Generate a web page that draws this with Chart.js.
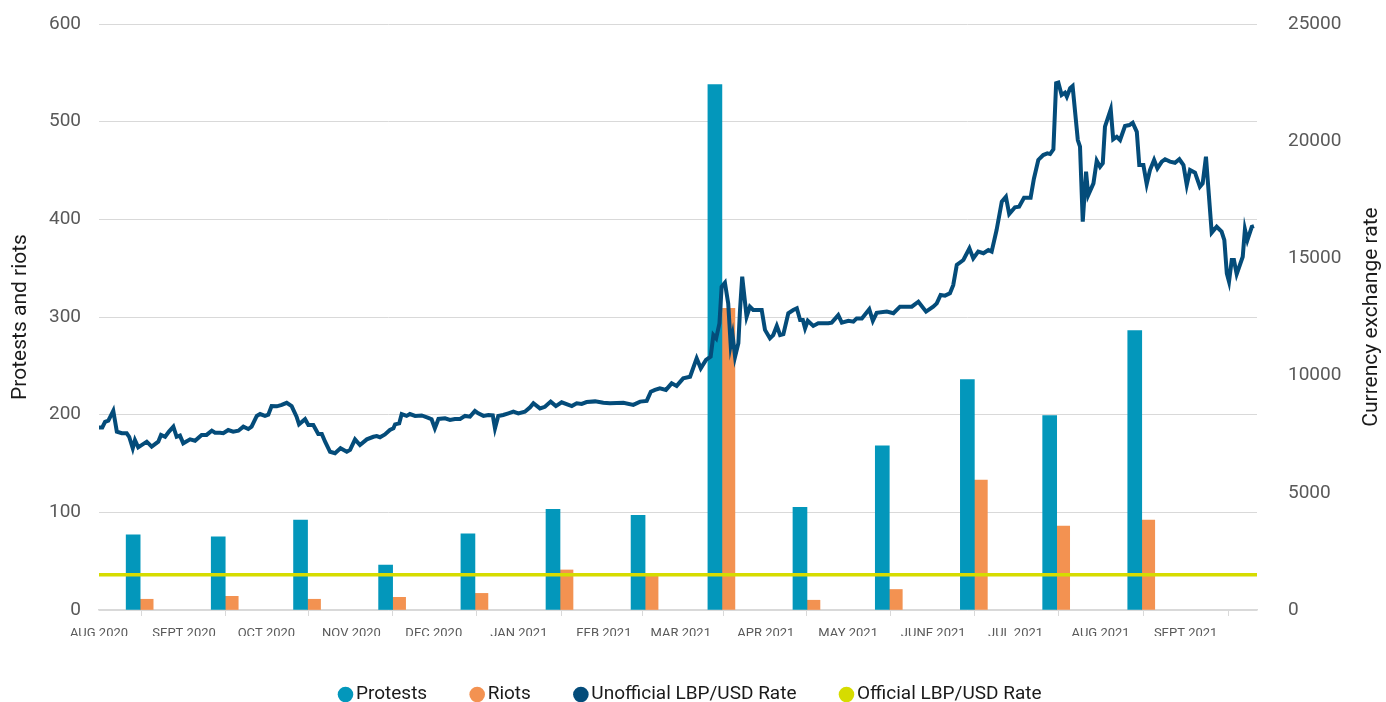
<!DOCTYPE html>
<html>
<head>
<meta charset="utf-8">
<title>Protests, riots and the LBP/USD rate</title>
<script src="https://cdn.jsdelivr.net/npm/chart.js@4/dist/chart.umd.min.js"></script>
<style>
	html, body { margin: 0; padding: 0; background: #ffffff; }
	canvas { display: block; }
</style>
</head>
<body>
<canvas id="chart" width="1386" height="702"></canvas>
<script>
/* x axis: days since 1 Aug 2020, one tick at the start of each month */
var monthDays = [0, 31, 61, 92, 122, 153, 184, 212, 243, 273, 304, 334, 365, 396];
var monthLabels = ['AUG 2020', 'SEPT 2020', 'OCT 2020', 'NOV 2020', 'DEC 2020', 'JAN 2021', 'FEB 2021',
	'MAR 2021', 'APR 2021', 'MAY 2021', 'JUNE 2021', 'JUL 2021', 'AUG 2021', 'SEPT 2021'];
var lastDay = 422;

/* monthly counts, drawn mid-month */
var barDays = [15, 46, 76, 107, 137, 168, 199, 227, 258, 288, 319, 349, 380];
var protests = [77, 75, 92, 46, 78, 103, 97, 538, 105, 168, 236, 199, 286];
var riots = [11, 14, 11, 13, 17, 41, 35, 309, 10, 21, 133, 86, 92];

/* exchange rates (LBP per USD) */
var officialRate = 1507.5;
var rateDays = [0, 1.2, 2.2, 3.4, 5.2, 6.5, 8.3, 10.1, 11.0, 12.3, 13.1, 14.3, 17.4, 19.2, 21.6, 22.6, 24.1, 25.5,
	27.1, 28.3, 29.5, 30.7, 33.2, 35.0, 37.4, 39.2, 41.1, 42.3, 44.1, 45.3, 47.1, 48.9, 50.8, 52.6, 54.4, 55.6,
	57.5, 58.7, 60.5, 61.7, 62.9, 64.8, 66.6, 68.4, 70.2, 72.0, 72.9, 75.1, 76.3, 78.1, 79.9, 81.2, 82.4, 84.2,
	86.0, 88.0, 90.3, 91.5, 93.3, 95.1, 97.6, 100.0, 101.2, 102.4, 104.2, 106.0, 107.3, 107.9, 109.4, 110.3,
	112.1, 113.3, 115.2, 117.6, 120.0, 121.2, 122.4, 123.7, 126.1, 127.9, 129.7, 131.6, 133.4, 135.2, 137.0,
	138.2, 140.1, 141.9, 143.5, 144.3, 145.5, 147.3, 149.2, 151.0, 152.8, 155.2, 157.1, 158.3, 160.7, 162.5,
	164.6, 166.5, 168.6, 172.3, 174.1, 175.9, 177.7, 180.8, 183.8, 186.2, 191.1, 194.7, 197.2, 199.6, 201.1,
	202.6, 204.4, 206.6, 208.7, 210.5, 212.9, 215.4, 217.8, 219.3, 221.2, 222.9, 223.9, 224.9, 226.1, 226.9,
	228.1, 229.3, 230.2, 230.9, 231.8, 233.0, 233.6, 234.4, 236.0, 237.2, 238.4, 241.5, 242.7, 244.5, 245.7,
	247.0, 248.2, 249.4, 251.2, 253.0, 254.3, 255.5, 256.5, 257.3, 258.3, 260.3, 262.1, 265.8, 267.0, 269.4,
	270.7, 273.1, 274.9, 276.1, 278.0, 280.7, 282.0, 283.4, 287.1, 289.5, 291.9, 296.2, 298.6, 301.4, 304.0,
	305.3, 306.7, 308.3, 310.1, 311.3, 312.6, 315.0, 317.2, 318.6, 320.4, 322.3, 324.1, 325.3, 327.1, 329.0,
	330.5, 331.7, 333.8, 335.3, 337.1, 339.5, 340.7, 342.3, 344.1, 345.6, 346.6, 347.8, 348.8, 349.6, 350.8,
	352.0, 352.7, 353.9, 354.8, 356.7, 357.5, 358.5, 359.7, 360.5, 362.4, 363.6, 364.8, 365.8, 366.6, 368.7,
	369.6, 370.9, 372.1, 373.9, 375.5, 376.7, 378.2, 379.1, 380.6, 381.8, 383.0, 384.5, 385.7, 387.3, 388.5,
	390.3, 392.1, 393.7, 395.2, 396.4, 397.6, 399.4, 401.2, 402.2, 403.4, 405.5, 407.3, 409.1, 410.1, 411.0,
	411.8, 412.8, 413.6, 414.6, 416.8, 417.6, 418.5, 420.1, 420.9];
var unofficialRate = [7790, 7790, 8030, 8080, 8500, 7610, 7540, 7540, 7390, 6900, 7250, 6940, 7180, 6970, 7180,
	7470, 7390, 7610, 7820, 7390, 7440, 7110, 7280, 7220, 7470, 7470, 7650, 7560, 7560, 7540, 7680, 7610, 7650,
	7820, 7720, 7820, 8280, 8360, 8280, 8330, 8700, 8690, 8750, 8840, 8700, 8250, 7920, 8140, 7890, 7890, 7510,
	7510, 7180, 6750, 6690, 6900, 6750, 6830, 7280, 7040, 7280, 7390, 7420, 7370, 7490, 7680, 7750, 7920, 7960,
	8360, 8280, 8360, 8280, 8300, 8200, 8140, 7750, 8150, 8180, 8110, 8150, 8150, 8280, 8250, 8490, 8390, 8280,
	8320, 8300, 7750, 8280, 8320, 8390, 8460, 8390, 8460, 8650, 8820, 8600, 8670, 8890, 8700, 8860, 8700, 8820,
	8790, 8870, 8900, 8840, 8820, 8840, 8750, 8890, 8920, 9310, 9390, 9460, 9390, 9670, 9560, 9880, 9950, 10740,
	10310, 10670, 10810, 11730, 11590, 12230, 13790, 13960, 13080, 11310, 11730, 10810, 11380, 12800, 14220,
	12510, 12940, 12800, 12800, 11950, 11590, 11730, 12120, 11730, 11770, 12660, 12800, 12870, 12370, 12370,
	12020, 12340, 12120, 12230, 12230, 12260, 12580, 12260, 12340, 12300, 12440, 12440, 12830, 12340, 12680,
	12730, 12660, 12940, 12940, 13150, 12730, 12940, 13080, 13440, 13410, 13510, 13860, 14720, 14930, 15430,
	15000, 15290, 15220, 15360, 15290, 16210, 17420, 17630, 16890, 17180, 17210, 17590, 17590, 18400, 19200,
	19410, 19480, 19450, 19650, 22470, 22500, 21970, 22070, 21900, 22260, 22350, 20050, 19770, 16570, 18700,
	17700, 18200, 19170, 18910, 19060, 20620, 21360, 20080, 20190, 20050, 20650, 20690, 20790, 20400, 18980,
	18980, 18170, 18770, 19200, 18840, 19130, 19230, 19130, 19080, 19230, 18980, 18130, 18770, 18660, 18060,
	18200, 19340, 16100, 16350, 16140, 15780, 14360, 14010, 14930, 14930, 14330, 15070, 16240, 15780, 16350,
	16380];

var tickColor = '#595959';
var gridColor = '#d9d9d9';
var fontFamily = 'Roboto, sans-serif';

/* points from two arrays */
function toPoints(xs, ys) {
	return xs.map(function (x, i) {
		return {x: x, y: ys[i]};
	});
}

/* fixed width for a y axis, and no extra room above/below it (the tick padding would add some) */
function fixWidth(width) {
	return function (scale) {
		scale.width = width;
		scale.paddingTop = 0;
		scale.paddingBottom = 0;
	};
}

/* rotated titles for both y axes (the right one reads bottom to top as well) */
var axisTitles = {
	id: 'axisTitles',
	afterDraw: function (chart) {
		var ctx = chart.ctx;
		var midY = (chart.chartArea.top + chart.chartArea.bottom) / 2;
		var titles = [[21, 'Protests and riots'], [1372, 'Currency exchange rate']];

		ctx.save();
		ctx.font = '21px ' + fontFamily;
		ctx.fillStyle = '#1a1a1a';
		ctx.textAlign = 'center';
		ctx.textBaseline = 'middle';
		titles.forEach(function (t) {
			ctx.save();
			ctx.translate(t[0], midY);
			ctx.rotate(-Math.PI / 2);
			ctx.fillText(t[1], 0, 0);
			ctx.restore();
		});
		ctx.restore();
	}
};

var chart = new Chart(document.getElementById('chart'), {
	type: 'line',
	data: {
		datasets: [{
			type: 'bar',
			label: 'Protests',
			data: toPoints(barDays, protests),
			backgroundColor: '#0397bb',
			barThickness: 14,
			yAxisID: 'y',
			order: 3
		}, {
			type: 'bar',
			label: 'Riots',
			data: toPoints(barDays, riots),
			backgroundColor: '#f39251',
			barThickness: 13,
			yAxisID: 'y',
			order: 3
		}, {
			label: 'Unofficial LBP/USD Rate',
			data: toPoints(rateDays, unofficialRate),
			borderColor: '#044c7a',
			backgroundColor: '#044c7a',
			borderWidth: 4,
			pointRadius: 0,
			tension: 0,
			yAxisID: 'y1',
			order: 1
		}, {
			label: 'Official LBP/USD Rate',
			data: [{x: 0, y: officialRate}, {x: lastDay, y: officialRate}],
			borderColor: '#d6dc00',
			backgroundColor: '#d6dc00',
			borderWidth: 3.5,
			pointRadius: 0,
			yAxisID: 'y1',
			order: 0
		}]
	},
	options: {
		responsive: false,
		devicePixelRatio: 1,
		animation: false,
		layout: {
			padding: {top: 24, left: 0, right: 0, bottom: -12}
		},
		plugins: {
			tooltip: {enabled: false},
			legend: {
				position: 'bottom',
				labels: {
					usePointStyle: true,
					pointStyle: 'circle',
					boxWidth: 2,
					boxHeight: 11,
					padding: 49,
					color: '#1a1a1a',
					font: {family: fontFamily, size: 19},
					sort: function (a, b) {
						return a.datasetIndex - b.datasetIndex;
					},
					generateLabels: function (chart) {
						return Chart.defaults.plugins.legend.labels.generateLabels(chart).map(function (item) {
							item.lineWidth = 0;
							item.strokeStyle = item.fillStyle;
							item.pointStyle = 'circle';
							return item;
						});
					}
				}
			}
		},
		scales: {
			x: {
				type: 'linear',
				min: 0,
				max: lastDay,
				offset: false,
				afterBuildTicks: function (scale) {
					scale.ticks = monthDays.map(function (d) {
						return {value: d};
					});
				},
				afterFit: function (scale) {
					scale.height = 26;
				},
				ticks: {
					autoSkip: false,
					maxRotation: 0,
					padding: 10,
					color: tickColor,
					font: {family: fontFamily, size: 13},
					callback: function (value) {
						return monthLabels[monthDays.indexOf(value)];
					}
				},
				grid: {drawOnChartArea: false, tickLength: 6, color: gridColor},
				border: {color: gridColor, width: 1.5}
			},
			y: {
				position: 'left',
				min: 0,
				max: 600,
				afterFit: fixWidth(99),
				ticks: {stepSize: 100, padding: 18, color: tickColor, font: {family: fontFamily, size: 19}},
				grid: {color: gridColor, drawTicks: false},
				border: {display: false}
			},
			y1: {
				position: 'right',
				min: 0,
				max: 25000,
				afterFit: fixWidth(129),
				ticks: {
					stepSize: 5000,
					padding: 31,
					color: tickColor,
					font: {family: fontFamily, size: 19},
					callback: function (value) {
						return String(value);
					}
				},
				grid: {drawOnChartArea: false, drawTicks: false},
				border: {display: false}
			}
		}
	},
	plugins: [axisTitles]
});
</script>
</body>
</html>
